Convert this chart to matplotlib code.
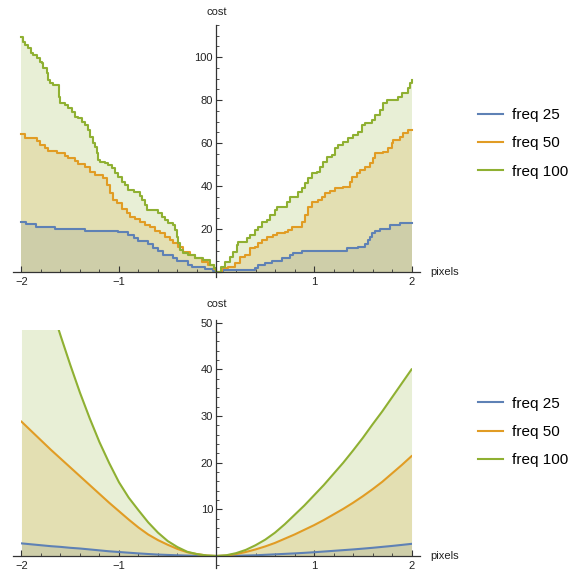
import numpy as np
import matplotlib
matplotlib.use("Agg")
import matplotlib.pyplot as plt
from matplotlib.ticker import MultipleLocator, FixedLocator
from matplotlib.patches import Rectangle

plt.rcParams['font.family'] = ['Liberation Sans', 'DejaVu Sans']

labels = ["freq 25", "freq 50", "freq 100"]
colors = ["#5E81B5", "#E19C24", "#8FB032"]

# ---- top panel: step-wise cost (value y_i holds from x_i to x_{i+1}) ----
f25_x = [-2.0, -1.954, -1.854, -1.656, -1.349, -1.007, -0.905, -0.85, -0.80, -0.70, -0.65,
         -0.60, -0.55, -0.45, -0.40, -0.29, -0.25, -0.12, -0.04, 0.0, 0.07, 0.395, 0.43,
         0.50, 0.566, 0.669, 0.754, 0.788, 0.874, 1.335, 1.455, 1.523, 1.557, 1.574, 1.592,
         1.626, 1.677, 1.779, 1.882, 2.0]
f25_y = [23.1, 22.2, 21.1, 20.0, 19.2, 18.6, 17.4, 15.8, 14.5, 12.9, 11.2,
         9.6, 7.9, 6.4, 5.0, 3.4, 2.2, 1.2, 0.4, 0.0, 0.9, 2.0, 3.3,
         4.1, 5.2, 6.4, 8.0, 8.7, 9.9, 11.0, 11.8, 13.0, 14.9, 16.4, 18.0,
         19.2, 20.0, 21.9, 22.9, 22.9]

f50_x = [-2.0, -1.964, -1.844, -1.81, -1.759, -1.725, -1.639, -1.554, -1.52, -1.451, -1.417,
         -1.349, -1.297, -1.246, -1.161, -1.126, -1.092, -1.058, -1.02, -0.972, -0.921,
         -0.887, -0.836, -0.785, -0.733, -0.682, -0.631, -0.579, -0.528, -0.477, -0.443,
         -0.392, -0.34, -0.272, -0.221, -0.152, -0.084, -0.03, 0.0, 0.053, 0.121, 0.19,
         0.241, 0.292, 0.344, 0.395, 0.429, 0.463, 0.515, 0.583, 0.617, 0.703, 0.737, 0.771,
         0.874, 0.908, 0.942, 0.976, 1.044, 1.079, 1.113, 1.164, 1.215, 1.301, 1.369, 1.386,
         1.438, 1.472, 1.523, 1.574, 1.608, 1.626, 1.711, 1.762, 1.797, 1.813, 1.882, 1.916,
         1.967, 2.0]
f50_y = [64.0, 62.2, 60.9, 59.1, 57.5, 56.4, 55.2, 54.0, 52.9, 51.6, 50.1,
         48.7, 46.7, 45.1, 43.6, 40.5, 36.6, 33.5, 32.0, 29.5, 27.5,
         25.8, 24.6, 23.4, 21.9, 20.8, 19.2, 18.0, 16.4, 14.9, 13.3,
         11.8, 9.5, 7.9, 6.6, 4.8, 3.3, 1.5, 0.0, 1.7, 2.5, 4.0,
         7.1, 7.9, 11.0, 11.8, 13.3, 14.9, 16.1, 17.2, 18.0, 18.7, 19.5, 21.1,
         23.4, 26.5, 30.4, 32.7, 33.5, 35.0, 36.6, 37.8, 38.9, 39.7, 42.0, 44.3,
         45.9, 47.4, 49.0, 50.6, 52.9, 55.2, 56.0, 57.5, 59.9, 61.4, 62.9, 64.5,
         66.0, 66.0]

f100_x = [-2.0, -1.985, -1.964, -1.93, -1.905, -1.879, -1.844, -1.81, -1.793, -1.776, -1.741,
          -1.725, -1.708, -1.674, -1.615, -1.605, -1.554, -1.52, -1.485, -1.451, -1.417,
          -1.383, -1.349, -1.321, -1.297, -1.263, -1.246, -1.229, -1.218, -1.195, -1.144,
          -1.11, -1.075, -1.041, -1.007, -0.972, -0.938, -0.904, -0.85, -0.785, -0.767,
          -0.733, -0.716, -0.597, -0.562, -0.528, -0.494, -0.443, -0.426, -0.408, -0.392,
          -0.374, -0.34, -0.289, -0.221, -0.135, -0.067, -0.03, -0.01, 0.05, 0.087, 0.138,
          0.172, 0.207, 0.224, 0.31, 0.344, 0.395, 0.429, 0.463, 0.515, 0.549, 0.6, 0.617,
          0.72, 0.754, 0.839, 0.874, 0.908, 0.942, 0.976, 1.027, 1.062, 1.096, 1.13, 1.181,
          1.215, 1.249, 1.301, 1.352, 1.403, 1.455, 1.489, 1.523, 1.592, 1.626, 1.677, 1.711,
          1.745, 1.865, 1.899, 1.967, 1.985, 2.0]
f100_y = [109.2, 107.0, 105.6, 104.0, 102.0, 100.9, 99.4, 97.8, 97.1, 94.7, 92.4,
          89.3, 87.8, 87.0, 81.5, 78.5, 77.7, 76.1, 74.6, 72.2, 71.5,
          69.9, 68.4, 66.0, 62.9, 59.9, 58.3, 55.2, 52.1, 51.3, 50.6,
          49.8, 48.2, 45.9, 44.3, 42.0, 40.5, 38.1, 37.3, 35.5, 33.5,
          31.2, 28.8, 27.3, 25.7, 24.2, 23.0, 21.9, 19.5, 16.4, 13.3,
          10.2, 8.7, 7.9, 6.4, 5.6, 3.3, 1.7, 0.0, 2.5, 4.8, 7.0,
          9.4, 12.6, 14.1, 15.7, 17.2, 19.5, 21.1, 23.4, 24.2, 26.5, 28.8, 30.4,
          32.7, 35.0, 37.3, 38.9, 41.2, 43.6, 45.9, 46.7, 49.0, 51.3, 53.6, 54.4,
          57.5, 59.1, 60.6, 62.2, 63.7, 65.3, 68.4, 69.2, 70.7, 73.0, 75.3, 78.5,
          80.0, 81.5, 83.1, 85.4, 87.8, 89.3]

# ---- bottom panel: smooth cost ----
smooth_x = [-2.0, -1.9, -1.8, -1.7, -1.6, -1.5, -1.4, -1.3, -1.2, -1.1, -1.0,
            -0.9, -0.8, -0.7, -0.6, -0.5, -0.4, -0.3, -0.2, -0.1, 0.0,
            0.1, 0.2, 0.3, 0.4, 0.5, 0.6, 0.7, 0.8, 0.9, 1.0,
            1.1, 1.2, 1.3, 1.4, 1.5, 1.6, 1.7, 1.8, 1.9, 2.0]
s25 = [2.7, 2.5, 2.3, 2.1, 1.95, 1.75, 1.6, 1.4, 1.2, 1.0, 0.85,
       0.7, 0.55, 0.42, 0.3, 0.22, 0.15, 0.09, 0.05, 0.01, 0.0,
       0.01, 0.05, 0.1, 0.15, 0.25, 0.35, 0.45, 0.55, 0.67, 0.8,
       0.95, 1.1, 1.25, 1.4, 1.57, 1.75, 1.95, 2.15, 2.37, 2.6]
s50 = [28.8, 26.8, 24.8, 22.8, 20.9, 19.0, 17.1, 15.2, 13.3, 11.4, 9.6,
       7.8, 6.1, 4.6, 3.4, 2.4, 1.5, 0.8, 0.4, 0.1, 0.0,
       0.1, 0.4, 0.85, 1.4, 2.05, 2.8, 3.7, 4.6, 5.6, 6.6,
       7.7, 8.9, 10.1, 11.4, 12.8, 14.3, 15.9, 17.7, 19.5, 21.4]
s100 = [74.0, 67.0, 60.5, 53.8, 47.3, 41.0, 35.0, 29.5, 24.4, 19.9, 15.8,
        12.5, 9.8, 7.2, 5.0, 3.2, 1.9, 0.9, 0.4, 0.1, 0.0,
        0.15, 0.6, 1.3, 2.3, 3.5, 5.0, 6.8, 8.8, 10.8, 13.0,
        15.2, 17.6, 20.0, 22.6, 25.3, 28.2, 31.0, 34.0, 37.0, 40.0]
bottom_clip = 48.4

W, H = 579, 575
fig = plt.figure(figsize=(W / 100, H / 100), dpi=100)

ax_left = 12.7 / W
ax_w = 407.3 / W
ax1 = fig.add_axes([ax_left, (H - 276.95) / H, ax_w, 252.2 / H])
ax2 = fig.add_axes([ax_left, (H - 568.1) / H, ax_w, 248.6 / H])

axis_col = "#333333"
tick_fs = 8


def style(ax, ylim, ymajor, yminor, label_y):
    ax.set_xlim(-2.09, 2.087)
    ax.set_ylim(*ylim)
    for s in ("top", "right"):
        ax.spines[s].set_visible(False)
    ax.spines["left"].set_position(("data", 0))
    ax.spines["bottom"].set_position(("data", 0))
    for s in ("left", "bottom"):
        ax.spines[s].set_color(axis_col)
        ax.spines[s].set_linewidth(0.9)
        ax.spines[s].set_zorder(5)
    ax.xaxis.set_major_locator(FixedLocator([-2, -1, 1, 2]))
    ax.xaxis.set_minor_locator(MultipleLocator(0.2))
    ax.yaxis.set_major_locator(FixedLocator(ymajor))
    ax.yaxis.set_minor_locator(MultipleLocator(yminor))
    ax.tick_params(which="both", direction="in", colors=axis_col, labelcolor="#222222",
                   labelsize=tick_fs)
    ax.tick_params(which="major", length=4, width=0.8)
    ax.tick_params(which="minor", length=2.2, width=0.6)
    ax.tick_params(axis="x", pad=3.5)
    ax.tick_params(axis="y", pad=2.5)
    ax.patch.set_alpha(0)
    ax.text(0, label_y, "cost", ha="center", va="center", fontsize=tick_fs,
            color="#222222", clip_on=False)
    ax.text(2.19, 0, "pixels", ha="left", va="center", fontsize=tick_fs,
            color="#222222", clip_on=False)


# top
series_top = [(f25_x, f25_y), (f50_x, f50_y), (f100_x, f100_y)]
for (xs, ys), c in zip(series_top, colors):
    ax1.fill_between(xs, ys, 0, step="post", color=c, alpha=0.2, lw=0, zorder=1)
handles1 = []
for (xs, ys), c, lab in zip(series_top, colors, labels):
    ln, = ax1.step(xs, ys, where="post", color=c, lw=1.5, label=lab, zorder=3)
    handles1.append(ln)
style(ax1, (-2.3, 115), [20, 40, 60, 80, 100], 5, 121)

# bottom
clip = Rectangle((-2.0, -5), 4.0, bottom_clip + 5, transform=ax2.transData)
series_bot = [s25, s50, s100]
for ys, c in zip(series_bot, colors):
    p = ax2.fill_between(smooth_x, ys, 0, color=c, alpha=0.2, lw=0, zorder=1)
    p.set_clip_path(clip)
handles2 = []
for ys, c, lab in zip(series_bot, colors, labels):
    ln, = ax2.plot(smooth_x, ys, color=c, lw=1.5, label=lab, zorder=3)
    ln.set_clip_path(clip)
    handles2.append(ln)
style(ax2, (-2.6, 50.7), [10, 20, 30, 40, 50], 2, 54.0)

for hs, yc in ((handles1, (H - 143.5) / H), (handles2, (H - 432) / H)):
    fig.legend(handles=hs, labels=labels, loc="center left",
               bbox_to_anchor=(478 / W, yc), frameon=False, fontsize=11,
               handlelength=1.64, handletextpad=0.6, labelspacing=0.93,
               borderpad=0, borderaxespad=0)

fig.savefig("out.png", dpi=100)
